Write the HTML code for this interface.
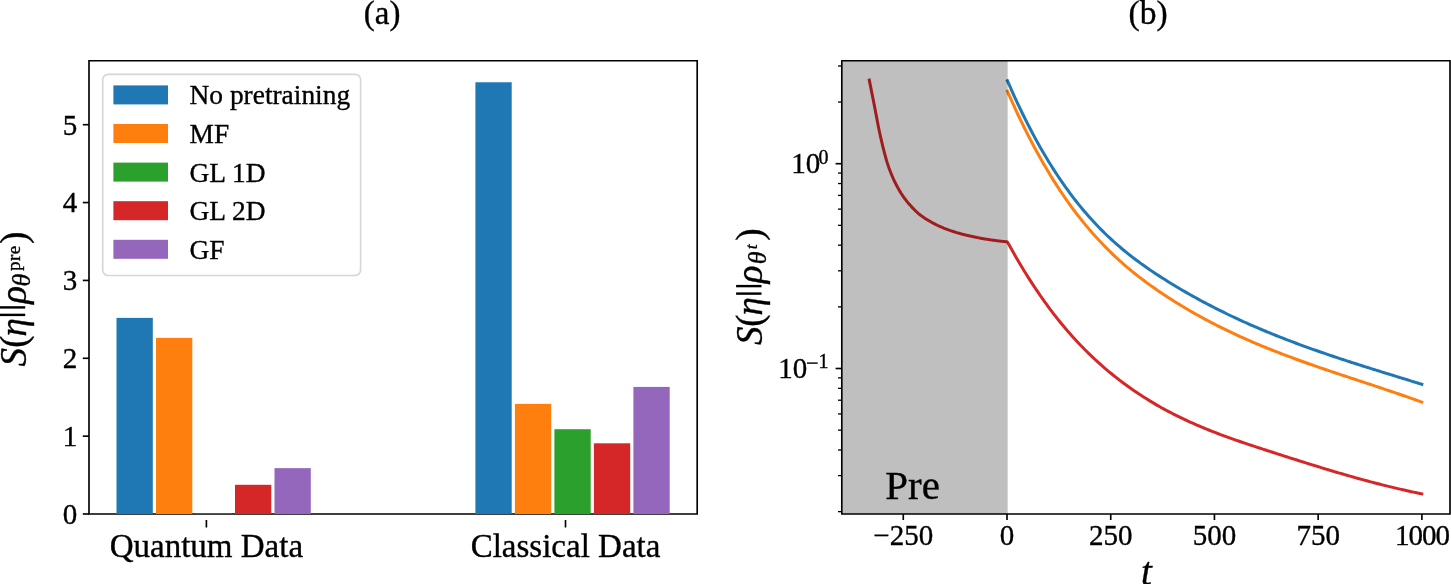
<!DOCTYPE html>
<html><head><meta charset="utf-8"><style>
html,body{margin:0;padding:0;background:#fff;}
svg{display:block;will-change:transform;}
text{font-family:"Liberation Serif", serif;fill:#000;stroke:#000;stroke-width:0.35px;}
</style></head><body>
<svg width="1451" height="584" viewBox="0 0 1451 584">
<rect width="1451" height="584" fill="#fff"/>
<path d="M89.0 514.0V60.7H697.2V514.0Z" fill="none" stroke="#000" stroke-width="1.65" stroke-linejoin="miter" stroke-linecap="square"/>
<rect x="116.50" y="317.87" width="36.30" height="196.13" fill="#1f77b4"/>
<rect x="156.00" y="337.88" width="36.30" height="176.12" fill="#ff7f0e"/>
<rect x="195.50" y="513.50" width="36.30" height="0.50" fill="#2ca02c"/>
<rect x="235.00" y="484.80" width="36.30" height="29.20" fill="#d62728"/>
<rect x="274.50" y="468.14" width="36.30" height="45.86" fill="#9467bd"/>
<rect x="475.40" y="82.27" width="36.30" height="431.73" fill="#1f77b4"/>
<rect x="514.90" y="403.91" width="36.30" height="110.09" fill="#ff7f0e"/>
<rect x="554.40" y="429.21" width="36.30" height="84.79" fill="#2ca02c"/>
<rect x="593.90" y="443.30" width="36.30" height="70.70" fill="#d62728"/>
<rect x="633.40" y="386.93" width="36.30" height="127.07" fill="#9467bd"/>
<line x1="82.80" y1="514.00" x2="89.00" y2="514.00" stroke="#000" stroke-width="1.65"/>
<text x="77.3" y="523.80" font-size="29" text-anchor="end">0</text>
<line x1="82.80" y1="436.14" x2="89.00" y2="436.14" stroke="#000" stroke-width="1.65"/>
<text x="77.3" y="445.94" font-size="29" text-anchor="end">1</text>
<line x1="82.80" y1="358.28" x2="89.00" y2="358.28" stroke="#000" stroke-width="1.65"/>
<text x="77.3" y="368.08" font-size="29" text-anchor="end">2</text>
<line x1="82.80" y1="280.42" x2="89.00" y2="280.42" stroke="#000" stroke-width="1.65"/>
<text x="77.3" y="290.22" font-size="29" text-anchor="end">3</text>
<line x1="82.80" y1="202.56" x2="89.00" y2="202.56" stroke="#000" stroke-width="1.65"/>
<text x="77.3" y="212.36" font-size="29" text-anchor="end">4</text>
<line x1="82.80" y1="124.70" x2="89.00" y2="124.70" stroke="#000" stroke-width="1.65"/>
<text x="77.3" y="134.50" font-size="29" text-anchor="end">5</text>
<line x1="206.4" y1="520" x2="206.4" y2="527.5" stroke="#000" stroke-width="1.65"/>
<text x="206.4" y="557.3" font-size="33" text-anchor="middle">Quantum Data</text>
<line x1="565.5" y1="520" x2="565.5" y2="527.5" stroke="#000" stroke-width="1.65"/>
<text x="565.5" y="557.3" font-size="33" text-anchor="middle">Classical Data</text>
<rect x="102.7" y="74.3" width="257.9" height="201.2" rx="5.5" ry="5.5" fill="#fff" fill-opacity="0.8" stroke="#d6d6d6" stroke-width="1.65"/>
<rect x="113.4" y="85.40" width="54.6" height="19" fill="#1f77b4"/>
<text x="189.6" y="104.40" font-size="27.4">No pretraining</text>
<rect x="113.4" y="124.00" width="54.6" height="19" fill="#ff7f0e"/>
<text x="189.6" y="143.00" font-size="27.4">MF</text>
<rect x="113.4" y="162.60" width="54.6" height="19" fill="#2ca02c"/>
<text x="189.6" y="181.60" font-size="27.4">GL 1D</text>
<rect x="113.4" y="201.20" width="54.6" height="19" fill="#d62728"/>
<text x="189.6" y="220.20" font-size="27.4">GL 2D</text>
<rect x="113.4" y="239.80" width="54.6" height="19" fill="#9467bd"/>
<text x="189.6" y="258.80" font-size="27.4">GF</text>
<text x="363.8" y="23.6" font-size="33">(a)</text>
<g transform="translate(25.70,366.00) rotate(-90)"><text x="-0.50" y="0.00" font-size="37" font-style="italic">S</text><text x="18.38" y="0.00" font-size="37">(</text><text x="29.43" y="0.00" font-size="37" font-style="italic">η</text><rect x="49.90" y="-26.00" width="2.40" height="25.50" fill="#000"/><rect x="57.40" y="-26.00" width="2.40" height="25.50" fill="#000"/><text x="62.17" y="0.00" font-size="37" font-style="italic">ρ</text><text x="79.55" y="4.00" font-size="26" font-style="italic">θ</text><text x="94.95" y="-5.50" font-size="19" letter-spacing="0.5">pre</text><text x="121.95" y="0.00" font-size="37">)</text></g>
<path d="M1007.40 80.67 L1009.48 85.45 L1011.56 90.16 L1013.65 94.79 L1015.73 99.34 L1017.81 103.81 L1019.89 108.20 L1021.98 112.52 L1024.06 116.77 L1026.14 120.94 L1028.22 125.04 L1030.31 129.06 L1032.39 133.01 L1034.47 136.90 L1036.55 140.71 L1038.64 144.46 L1040.72 148.14 L1042.80 151.75 L1044.88 155.29 L1046.97 158.78 L1049.05 162.19 L1051.13 165.55 L1053.21 168.84 L1055.30 172.07 L1057.38 175.24 L1059.46 178.36 L1061.54 181.41 L1063.63 184.41 L1065.71 187.35 L1067.79 190.23 L1069.87 193.06 L1071.95 195.84 L1074.04 198.56 L1076.12 201.23 L1078.20 203.85 L1080.28 206.42 L1082.37 208.94 L1084.45 211.42 L1086.53 213.84 L1088.61 216.22 L1090.70 218.56 L1092.78 220.85 L1094.86 223.09 L1096.94 225.30 L1099.03 227.46 L1101.11 229.58 L1103.19 231.66 L1105.27 233.70 L1107.36 235.71 L1109.44 237.67 L1111.52 239.60 L1113.60 241.50 L1115.69 243.36 L1117.77 245.19 L1119.85 246.98 L1121.93 248.74 L1124.02 250.48 L1126.10 252.18 L1128.18 253.85 L1130.26 255.50 L1132.34 257.12 L1134.43 258.71 L1136.51 260.28 L1138.59 261.82 L1140.67 263.34 L1142.76 264.84 L1144.84 266.32 L1146.92 267.77 L1149.00 269.21 L1151.09 270.62 L1153.17 272.02 L1155.25 273.41 L1157.33 274.77 L1159.42 276.12 L1161.50 277.46 L1163.58 278.78 L1165.66 280.10 L1167.75 281.40 L1169.83 282.68 L1171.91 283.96 L1173.99 285.23 L1176.08 286.48 L1178.16 287.73 L1180.24 288.96 L1182.32 290.18 L1184.41 291.39 L1186.49 292.59 L1188.57 293.78 L1190.65 294.96 L1192.73 296.13 L1194.82 297.28 L1196.90 298.43 L1198.98 299.57 L1201.06 300.70 L1203.15 301.81 L1205.23 302.92 L1207.31 304.02 L1209.39 305.11 L1211.48 306.19 L1213.56 307.26 L1215.64 308.32 L1217.72 309.37 L1219.81 310.41 L1221.89 311.45 L1223.97 312.47 L1226.05 313.49 L1228.14 314.49 L1230.22 315.49 L1232.30 316.48 L1234.38 317.46 L1236.47 318.43 L1238.55 319.40 L1240.63 320.36 L1242.71 321.31 L1244.79 322.25 L1246.88 323.18 L1248.96 324.11 L1251.04 325.02 L1253.12 325.93 L1255.21 326.84 L1257.29 327.73 L1259.37 328.62 L1261.45 329.50 L1263.54 330.38 L1265.62 331.25 L1267.70 332.11 L1269.78 332.96 L1271.87 333.81 L1273.95 334.65 L1276.03 335.49 L1278.11 336.32 L1280.20 337.14 L1282.28 337.96 L1284.36 338.77 L1286.44 339.57 L1288.53 340.37 L1290.61 341.17 L1292.69 341.95 L1294.77 342.74 L1296.86 343.51 L1298.94 344.29 L1301.02 345.05 L1303.10 345.82 L1305.18 346.57 L1307.27 347.33 L1309.35 348.07 L1311.43 348.82 L1313.51 349.56 L1315.60 350.29 L1317.68 351.02 L1319.76 351.75 L1321.84 352.47 L1323.93 353.19 L1326.01 353.90 L1328.09 354.61 L1330.17 355.32 L1332.26 356.02 L1334.34 356.72 L1336.42 357.41 L1338.50 358.11 L1340.59 358.80 L1342.67 359.48 L1344.75 360.17 L1346.83 360.85 L1348.92 361.52 L1351.00 362.20 L1353.08 362.87 L1355.16 363.54 L1357.25 364.21 L1359.33 364.87 L1361.41 365.54 L1363.49 366.20 L1365.57 366.86 L1367.66 367.52 L1369.74 368.17 L1371.82 368.83 L1373.90 369.48 L1375.99 370.13 L1378.07 370.78 L1380.15 371.43 L1382.23 372.07 L1384.32 372.72 L1386.40 373.37 L1388.48 374.01 L1390.56 374.65 L1392.65 375.30 L1394.73 375.94 L1396.81 376.58 L1398.89 377.22 L1400.98 377.87 L1403.06 378.51 L1405.14 379.15 L1407.22 379.79 L1409.31 380.43 L1411.39 381.07 L1413.47 381.72 L1415.55 382.36 L1417.64 383.00 L1419.72 383.65 L1421.80 384.29" fill="none" stroke="#1f77b4" stroke-width="3.0" stroke-linecap="square" stroke-linejoin="round"/>
<path d="M1007.40 91.18 L1009.48 95.94 L1011.56 100.63 L1013.65 105.24 L1015.73 109.78 L1017.81 114.25 L1019.89 118.65 L1021.98 122.97 L1024.06 127.23 L1026.14 131.41 L1028.22 135.53 L1030.31 139.58 L1032.39 143.56 L1034.47 147.47 L1036.55 151.32 L1038.64 155.10 L1040.72 158.82 L1042.80 162.48 L1044.88 166.08 L1046.97 169.61 L1049.05 173.08 L1051.13 176.50 L1053.21 179.85 L1055.30 183.15 L1057.38 186.38 L1059.46 189.56 L1061.54 192.69 L1063.63 195.76 L1065.71 198.78 L1067.79 201.74 L1069.87 204.65 L1071.95 207.51 L1074.04 210.32 L1076.12 213.08 L1078.20 215.79 L1080.28 218.45 L1082.37 221.06 L1084.45 223.62 L1086.53 226.14 L1088.61 228.62 L1090.70 231.05 L1092.78 233.44 L1094.86 235.78 L1096.94 238.08 L1099.03 240.34 L1101.11 242.56 L1103.19 244.74 L1105.27 246.89 L1107.36 248.99 L1109.44 251.06 L1111.52 253.09 L1113.60 255.08 L1115.69 257.04 L1117.77 258.97 L1119.85 260.86 L1121.93 262.73 L1124.02 264.56 L1126.10 266.36 L1128.18 268.12 L1130.26 269.87 L1132.34 271.58 L1134.43 273.26 L1136.51 274.92 L1138.59 276.56 L1140.67 278.16 L1142.76 279.75 L1144.84 281.31 L1146.92 282.85 L1149.00 284.36 L1151.09 285.86 L1153.17 287.34 L1155.25 288.79 L1157.33 290.23 L1159.42 291.65 L1161.50 293.06 L1163.58 294.44 L1165.66 295.82 L1167.75 297.18 L1169.83 298.52 L1171.91 299.85 L1173.99 301.17 L1176.08 302.47 L1178.16 303.75 L1180.24 305.03 L1182.32 306.29 L1184.41 307.54 L1186.49 308.77 L1188.57 309.99 L1190.65 311.20 L1192.73 312.40 L1194.82 313.58 L1196.90 314.75 L1198.98 315.91 L1201.06 317.06 L1203.15 318.19 L1205.23 319.32 L1207.31 320.43 L1209.39 321.53 L1211.48 322.62 L1213.56 323.70 L1215.64 324.76 L1217.72 325.82 L1219.81 326.87 L1221.89 327.90 L1223.97 328.93 L1226.05 329.94 L1228.14 330.94 L1230.22 331.94 L1232.30 332.92 L1234.38 333.90 L1236.47 334.87 L1238.55 335.82 L1240.63 336.77 L1242.71 337.71 L1244.79 338.64 L1246.88 339.56 L1248.96 340.47 L1251.04 341.38 L1253.12 342.27 L1255.21 343.16 L1257.29 344.04 L1259.37 344.92 L1261.45 345.78 L1263.54 346.64 L1265.62 347.49 L1267.70 348.33 L1269.78 349.17 L1271.87 350.00 L1273.95 350.82 L1276.03 351.64 L1278.11 352.45 L1280.20 353.26 L1282.28 354.05 L1284.36 354.85 L1286.44 355.63 L1288.53 356.42 L1290.61 357.19 L1292.69 357.96 L1294.77 358.73 L1296.86 359.49 L1298.94 360.25 L1301.02 361.00 L1303.10 361.75 L1305.18 362.49 L1307.27 363.23 L1309.35 363.96 L1311.43 364.69 L1313.51 365.42 L1315.60 366.15 L1317.68 366.87 L1319.76 367.58 L1321.84 368.30 L1323.93 369.01 L1326.01 369.72 L1328.09 370.43 L1330.17 371.13 L1332.26 371.83 L1334.34 372.53 L1336.42 373.23 L1338.50 373.93 L1340.59 374.62 L1342.67 375.31 L1344.75 376.01 L1346.83 376.70 L1348.92 377.39 L1351.00 378.07 L1353.08 378.76 L1355.16 379.45 L1357.25 380.14 L1359.33 380.82 L1361.41 381.51 L1363.49 382.20 L1365.57 382.89 L1367.66 383.57 L1369.74 384.26 L1371.82 384.95 L1373.90 385.64 L1375.99 386.33 L1378.07 387.02 L1380.15 387.72 L1382.23 388.41 L1384.32 389.11 L1386.40 389.81 L1388.48 390.51 L1390.56 391.21 L1392.65 391.92 L1394.73 392.62 L1396.81 393.33 L1398.89 394.04 L1400.98 394.76 L1403.06 395.48 L1405.14 396.20 L1407.22 396.93 L1409.31 397.65 L1411.39 398.39 L1413.47 399.12 L1415.55 399.86 L1417.64 400.61 L1419.72 401.36 L1421.80 402.11" fill="none" stroke="#ff7f0e" stroke-width="3.0" stroke-linecap="square" stroke-linejoin="round"/>
<path d="M869.30 80.10 L869.99 83.59 L870.69 87.09 L871.38 90.59 L872.08 94.08 L872.77 97.58 L873.46 101.08 L874.16 104.58 L874.85 108.10 L875.55 111.71 L876.24 115.37 L876.93 119.04 L877.63 122.68 L878.32 126.26 L879.02 129.72 L879.71 133.05 L880.40 136.18 L881.10 139.17 L881.79 142.12 L882.49 145.03 L883.18 147.87 L883.87 150.65 L884.57 153.35 L885.26 155.97 L885.96 158.48 L886.65 160.88 L887.34 163.16 L888.04 165.31 L888.73 167.31 L889.43 169.20 L890.12 171.02 L890.81 172.79 L891.51 174.50 L892.20 176.15 L892.89 177.75 L893.59 179.30 L894.28 180.80 L894.98 182.25 L895.67 183.66 L896.36 185.02 L897.06 186.33 L897.75 187.61 L898.45 188.85 L899.14 190.06 L899.83 191.23 L900.53 192.36 L901.22 193.47 L901.92 194.54 L902.61 195.57 L903.30 196.58 L904.00 197.56 L904.69 198.52 L905.39 199.44 L906.08 200.35 L906.77 201.23 L907.47 202.09 L908.16 202.93 L908.86 203.75 L909.55 204.55 L910.24 205.34 L910.94 206.11 L911.63 206.87 L912.33 207.62 L913.02 208.35 L913.71 209.07 L914.41 209.77 L915.10 210.46 L915.80 211.13 L916.49 211.78 L917.18 212.42 L917.88 213.04 L918.57 213.64 L919.27 214.22 L919.96 214.78 L920.65 215.32 L921.35 215.84 L922.04 216.35 L922.74 216.84 L923.43 217.32 L924.12 217.78 L924.82 218.23 L925.51 218.68 L926.21 219.11 L926.90 219.53 L927.59 219.95 L928.29 220.36 L928.98 220.76 L929.68 221.16 L930.37 221.56 L931.06 221.95 L931.76 222.34 L932.45 222.72 L933.15 223.10 L933.84 223.47 L934.53 223.84 L935.23 224.20 L935.92 224.56 L936.62 224.90 L937.31 225.25 L938.00 225.58 L938.70 225.91 L939.39 226.24 L940.08 226.55 L940.78 226.86 L941.47 227.16 L942.17 227.45 L942.86 227.74 L943.55 228.03 L944.25 228.30 L944.94 228.57 L945.64 228.84 L946.33 229.10 L947.02 229.36 L947.72 229.61 L948.41 229.86 L949.11 230.11 L949.80 230.35 L950.49 230.59 L951.19 230.83 L951.88 231.06 L952.58 231.29 L953.27 231.52 L953.96 231.75 L954.66 231.97 L955.35 232.19 L956.05 232.40 L956.74 232.62 L957.43 232.83 L958.13 233.03 L958.82 233.23 L959.52 233.43 L960.21 233.62 L960.90 233.81 L961.60 234.00 L962.29 234.18 L962.99 234.36 L963.68 234.53 L964.37 234.70 L965.07 234.87 L965.76 235.03 L966.46 235.19 L967.15 235.35 L967.84 235.51 L968.54 235.66 L969.23 235.82 L969.93 235.97 L970.62 236.12 L971.31 236.27 L972.01 236.42 L972.70 236.57 L973.40 236.72 L974.09 236.87 L974.78 237.02 L975.48 237.17 L976.17 237.32 L976.87 237.46 L977.56 237.61 L978.25 237.75 L978.95 237.89 L979.64 238.02 L980.34 238.16 L981.03 238.29 L981.72 238.41 L982.42 238.54 L983.11 238.66 L983.81 238.78 L984.50 238.90 L985.19 239.01 L985.89 239.13 L986.58 239.24 L987.27 239.35 L987.97 239.46 L988.66 239.56 L989.36 239.67 L990.05 239.77 L990.74 239.87 L991.44 239.97 L992.13 240.06 L992.83 240.16 L993.52 240.25 L994.21 240.35 L994.91 240.44 L995.60 240.53 L996.30 240.62 L996.99 240.71 L997.68 240.80 L998.38 240.89 L999.07 240.97 L999.77 241.06 L1000.46 241.14 L1001.15 241.22 L1001.85 241.30 L1002.54 241.38 L1003.24 241.46 L1003.93 241.54 L1004.62 241.61 L1005.32 241.69 L1006.01 241.76 L1006.71 241.83 L1007.40 241.90 L1009.48 245.51 L1011.56 249.28 L1013.65 252.99 L1015.73 256.64 L1017.81 260.24 L1019.89 263.78 L1021.98 267.26 L1024.06 270.69 L1026.14 274.06 L1028.22 277.39 L1030.31 280.65 L1032.39 283.87 L1034.47 287.03 L1036.55 290.15 L1038.64 293.21 L1040.72 296.23 L1042.80 299.19 L1044.88 302.11 L1046.97 304.98 L1049.05 307.80 L1051.13 310.57 L1053.21 313.30 L1055.30 315.99 L1057.38 318.63 L1059.46 321.22 L1061.54 323.77 L1063.63 326.28 L1065.71 328.75 L1067.79 331.18 L1069.87 333.57 L1071.95 335.91 L1074.04 338.22 L1076.12 340.49 L1078.20 342.72 L1080.28 344.91 L1082.37 347.07 L1084.45 349.19 L1086.53 351.28 L1088.61 353.33 L1090.70 355.35 L1092.78 357.33 L1094.86 359.28 L1096.94 361.20 L1099.03 363.08 L1101.11 364.94 L1103.19 366.77 L1105.27 368.56 L1107.36 370.33 L1109.44 372.07 L1111.52 373.78 L1113.60 375.46 L1115.69 377.12 L1117.77 378.75 L1119.85 380.36 L1121.93 381.94 L1124.02 383.50 L1126.10 385.03 L1128.18 386.54 L1130.26 388.03 L1132.34 389.49 L1134.43 390.93 L1136.51 392.34 L1138.59 393.74 L1140.67 395.11 L1142.76 396.46 L1144.84 397.79 L1146.92 399.09 L1149.00 400.38 L1151.09 401.65 L1153.17 402.89 L1155.25 404.12 L1157.33 405.33 L1159.42 406.52 L1161.50 407.69 L1163.58 408.84 L1165.66 409.97 L1167.75 411.09 L1169.83 412.19 L1171.91 413.27 L1173.99 414.34 L1176.08 415.39 L1178.16 416.42 L1180.24 417.44 L1182.32 418.44 L1184.41 419.43 L1186.49 420.40 L1188.57 421.36 L1190.65 422.31 L1192.73 423.24 L1194.82 424.16 L1196.90 425.07 L1198.98 425.96 L1201.06 426.84 L1203.15 427.71 L1205.23 428.57 L1207.31 429.42 L1209.39 430.26 L1211.48 431.08 L1213.56 431.90 L1215.64 432.70 L1217.72 433.50 L1219.81 434.29 L1221.89 435.07 L1223.97 435.84 L1226.05 436.60 L1228.14 437.36 L1230.22 438.10 L1232.30 438.85 L1234.38 439.58 L1236.47 440.31 L1238.55 441.03 L1240.63 441.75 L1242.71 442.46 L1244.79 443.16 L1246.88 443.86 L1248.96 444.56 L1251.04 445.25 L1253.12 445.94 L1255.21 446.63 L1257.29 447.31 L1259.37 447.99 L1261.45 448.67 L1263.54 449.35 L1265.62 450.03 L1267.70 450.70 L1269.78 451.37 L1271.87 452.05 L1273.95 452.72 L1276.03 453.39 L1278.11 454.06 L1280.20 454.73 L1282.28 455.40 L1284.36 456.07 L1286.44 456.73 L1288.53 457.40 L1290.61 458.06 L1292.69 458.73 L1294.77 459.39 L1296.86 460.05 L1298.94 460.71 L1301.02 461.36 L1303.10 462.02 L1305.18 462.67 L1307.27 463.33 L1309.35 463.98 L1311.43 464.62 L1313.51 465.27 L1315.60 465.91 L1317.68 466.55 L1319.76 467.19 L1321.84 467.83 L1323.93 468.46 L1326.01 469.09 L1328.09 469.72 L1330.17 470.35 L1332.26 470.97 L1334.34 471.59 L1336.42 472.21 L1338.50 472.82 L1340.59 473.43 L1342.67 474.04 L1344.75 474.64 L1346.83 475.24 L1348.92 475.84 L1351.00 476.43 L1353.08 477.02 L1355.16 477.60 L1357.25 478.19 L1359.33 478.76 L1361.41 479.34 L1363.49 479.91 L1365.57 480.47 L1367.66 481.03 L1369.74 481.59 L1371.82 482.14 L1373.90 482.69 L1375.99 483.23 L1378.07 483.77 L1380.15 484.30 L1382.23 484.83 L1384.32 485.36 L1386.40 485.87 L1388.48 486.39 L1390.56 486.90 L1392.65 487.40 L1394.73 487.90 L1396.81 488.39 L1398.89 488.87 L1400.98 489.36 L1403.06 489.83 L1405.14 490.30 L1407.22 490.76 L1409.31 491.22 L1411.39 491.67 L1413.47 492.12 L1415.55 492.56 L1417.64 492.99 L1419.72 493.42 L1421.80 493.84" fill="none" stroke="#d62728" stroke-width="3.0" stroke-linecap="square" stroke-linejoin="round"/>
<rect x="841.8" y="60.7" width="165.87" height="453.3" fill="#000" fill-opacity="0.25"/>
<text x="885.3" y="499" font-size="41">Pre</text>
<path d="M841.8 514.0V60.7H1450.0V514.0Z" fill="none" stroke="#000" stroke-width="1.65" stroke-linecap="square"/>
<line x1="903.28" y1="514.0" x2="903.28" y2="520.00" stroke="#000" stroke-width="1.65"/>
<text x="903.28" y="544.6" font-size="29" text-anchor="middle">−250</text>
<line x1="1007.00" y1="514.0" x2="1007.00" y2="520.00" stroke="#000" stroke-width="1.65"/>
<text x="1007.00" y="544.6" font-size="29" text-anchor="middle">0</text>
<line x1="1110.72" y1="514.0" x2="1110.72" y2="520.00" stroke="#000" stroke-width="1.65"/>
<text x="1110.72" y="544.6" font-size="29" text-anchor="middle">250</text>
<line x1="1214.44" y1="514.0" x2="1214.44" y2="520.00" stroke="#000" stroke-width="1.65"/>
<text x="1214.44" y="544.6" font-size="29" text-anchor="middle">500</text>
<line x1="1318.16" y1="514.0" x2="1318.16" y2="520.00" stroke="#000" stroke-width="1.65"/>
<text x="1318.16" y="544.6" font-size="29" text-anchor="middle">750</text>
<line x1="1421.88" y1="514.0" x2="1421.88" y2="520.00" stroke="#000" stroke-width="1.65"/>
<text x="1421.88" y="544.6" font-size="29" text-anchor="middle" letter-spacing="-1">1000</text>
<line x1="835.60" y1="163.70" x2="841.8" y2="163.70" stroke="#000" stroke-width="1.65"/>
<line x1="835.60" y1="368.50" x2="841.8" y2="368.50" stroke="#000" stroke-width="1.65"/>
<line x1="838.00" y1="102.05" x2="841.8" y2="102.05" stroke="#000" stroke-width="1.3"/>
<line x1="838.00" y1="65.99" x2="841.8" y2="65.99" stroke="#000" stroke-width="1.3"/>
<line x1="838.00" y1="306.85" x2="841.8" y2="306.85" stroke="#000" stroke-width="1.3"/>
<line x1="838.00" y1="270.79" x2="841.8" y2="270.79" stroke="#000" stroke-width="1.3"/>
<line x1="838.00" y1="245.20" x2="841.8" y2="245.20" stroke="#000" stroke-width="1.3"/>
<line x1="838.00" y1="225.35" x2="841.8" y2="225.35" stroke="#000" stroke-width="1.3"/>
<line x1="838.00" y1="209.13" x2="841.8" y2="209.13" stroke="#000" stroke-width="1.3"/>
<line x1="838.00" y1="195.42" x2="841.8" y2="195.42" stroke="#000" stroke-width="1.3"/>
<line x1="838.00" y1="183.55" x2="841.8" y2="183.55" stroke="#000" stroke-width="1.3"/>
<line x1="838.00" y1="173.07" x2="841.8" y2="173.07" stroke="#000" stroke-width="1.3"/>
<line x1="838.00" y1="511.65" x2="841.8" y2="511.65" stroke="#000" stroke-width="1.3"/>
<line x1="838.00" y1="475.59" x2="841.8" y2="475.59" stroke="#000" stroke-width="1.3"/>
<line x1="838.00" y1="450.00" x2="841.8" y2="450.00" stroke="#000" stroke-width="1.3"/>
<line x1="838.00" y1="430.15" x2="841.8" y2="430.15" stroke="#000" stroke-width="1.3"/>
<line x1="838.00" y1="413.93" x2="841.8" y2="413.93" stroke="#000" stroke-width="1.3"/>
<line x1="838.00" y1="400.22" x2="841.8" y2="400.22" stroke="#000" stroke-width="1.3"/>
<line x1="838.00" y1="388.35" x2="841.8" y2="388.35" stroke="#000" stroke-width="1.3"/>
<line x1="838.00" y1="377.87" x2="841.8" y2="377.87" stroke="#000" stroke-width="1.3"/>
<text x="791.2" y="173.1" font-size="29">10</text>
<text x="818.5" y="163.5" font-size="20">0</text>
<text x="778.2" y="378.0" font-size="29">10</text>
<rect x="807.0" y="362.4" width="10.7" height="1.4" fill="#000"/>
<text x="818.5" y="367.9" font-size="20">1</text>
<g transform="translate(761.80,344.60) rotate(-90)"><text x="-0.50" y="0.00" font-size="37" font-style="italic">S</text><text x="17.88" y="0.00" font-size="37">(</text><text x="29.23" y="0.00" font-size="37" font-style="italic">η</text><rect x="49.80" y="-25.70" width="2.40" height="25.40" fill="#000"/><rect x="57.30" y="-25.70" width="2.40" height="25.40" fill="#000"/><text x="61.48" y="0.00" font-size="37" font-style="italic">ρ</text><text x="80.45" y="4.20" font-size="26" font-style="italic">θ</text><text x="95.45" y="-5.30" font-size="17.5" font-style="italic">t</text><text x="103.85" y="0.00" font-size="37">)</text></g>
<text x="1140.9" y="584.5" font-size="39" font-style="italic">t</text>
<text x="1128.6" y="23.6" font-size="33.5">(b)</text>
</svg>
</body></html>
